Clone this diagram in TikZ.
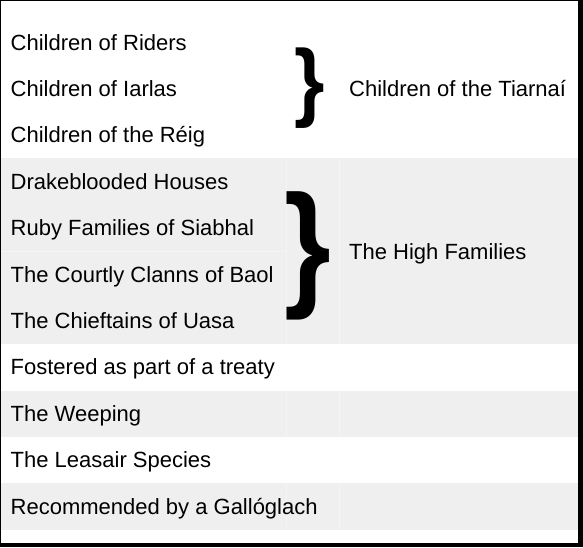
\documentclass[tikz,border=0pt]{standalone}
\usepackage{fontspec}
\usepackage{graphicx}
\setmainfont{Liberation Sans}
\definecolor{bandgrey}{RGB}{239,239,239}
\definecolor{cellline}{RGB}{244,244,244}
\begin{document}
\begin{tikzpicture}[x=1pt,y=-1pt,
  lbl/.style={anchor=base west, inner sep=0pt, font=\fontsize{22}{26}\selectfont, text=black},
  bracebox/.style={anchor=north west, inner sep=0pt, outer sep=0pt, text=black, font=\bfseries},
  band/.style={fill=bandgrey},
  gridline/.style={draw=cellline, line width=1pt}]
\useasboundingbox (0,0) rectangle (583,547);
% frame
\fill[black] (0,0) rectangle (583,547);
\fill[white] (1,1) rectangle (578,543);
% grey bands
\fill[band] (1,158) rectangle (578,344);
\fill[band] (1,390.6) rectangle (578,437);
\fill[band] (1,483.4) rectangle (578,529.8);
% faint cell lines inside grey bands
\foreach \ya/\yb in {158/344, 390.6/437, 483.4/529.8}{
  \draw[gridline] (286,\ya) -- (286,\yb);
  \draw[gridline] (339,\ya) -- (339,\yb);
}
\draw[gridline] (1,251) -- (286,251);
% left labels
\node[lbl] (r0) at (10.5,50.1) {Children of Riders};
\node[lbl] (r1) at (10.5,96.5) {Children of Iarlas};
\node[lbl] (r2) at (10.5,142.9) {Children of the Réig};
\node[lbl] (r3) at (10.5,189.3) {Drakeblooded Houses};
\node[lbl] (r4) at (10.5,235.7) {Ruby Families of Siabhal};
\node[lbl] (r5) at (10.5,282.1) {The Courtly Clanns of Baol};
\node[lbl] (r6) at (10.5,328.5) {The Chieftains of Uasa};
\node[lbl] (r7) at (10.5,374.9) {Fostered as part of a treaty};
\node[lbl] (r8) at (10.5,421.3) {The Weeping};
\node[lbl] (r9) at (10.5,467.7) {The Leasair Species};
\node[lbl] (r10) at (10.5,514.1) {Recommended by a Gallóglach};
% braces
\node[bracebox] (b1) at (294.8,47.7) {\resizebox*{30.4pt}{80.6pt}{\}}};
\node[bracebox] (b2) at (284.6,191.7) {\resizebox*{46.7pt}{128.3pt}{\}}};
% group labels
\node[lbl] (g1) at (349,96.5) {Children of the Tiarnaí};
\node[lbl] (g2) at (349,259) {The High Families};
\end{tikzpicture}
\end{document}
